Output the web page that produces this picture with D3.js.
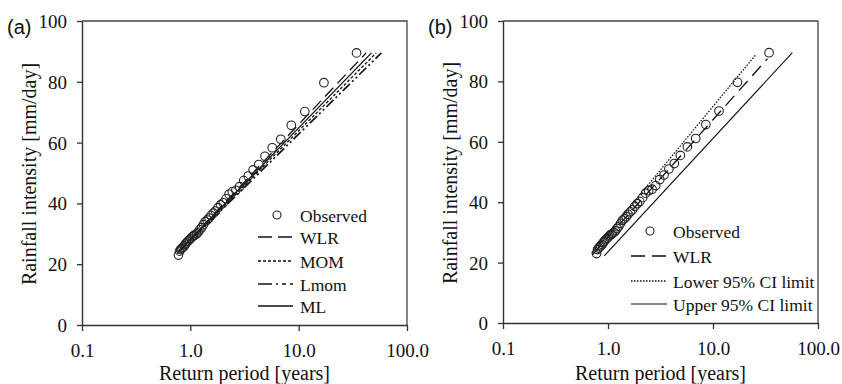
<!DOCTYPE html>
<html>
<head>
<meta charset="utf-8">
<script src="https://cdn.jsdelivr.net/npm/d3@7"></script>
<style>
  html, body { margin: 0; padding: 0; background: #fff; }
  svg { display: block; }
  text { font-family: "Liberation Serif", "Times New Roman", serif; fill: #111; }
</style>
</head>
<body>
<svg id="chart" width="842" height="384"></svg>
<script>
// ---------- DATA ----------
const xTicks = [0.1, 1, 10, 100];
const yTicks = [0, 20, 40, 60, 80, 100];

// Observed return periods [years] and rainfall intensities [mm/day]
const returnPeriod = [34.2, 17.1, 11.4, 8.55, 6.84, 5.7, 4.89, 4.28, 3.8, 3.42,
  3.11, 2.85, 2.63, 2.44, 2.28, 2.14, 2.01, 1.9, 1.8, 1.71,
  1.63, 1.55, 1.49, 1.43, 1.37, 1.32, 1.27, 1.22, 1.18, 1.14,
  1.10, 1.07, 1.04, 1.01, 0.98, 0.95, 0.92, 0.90, 0.88, 0.855,
  0.834, 0.814, 0.795, 0.777];
const observed = [89.5, 79.7, 70.2, 65.7, 61.1, 58.3, 55.5, 52.8, 51.0, 49.0,
  47.5, 45.5, 44.3, 43.8, 43.0, 41.5, 40.2, 39.5, 38.6, 37.5,
  36.8, 36.0, 35.2, 34.5, 34.0, 33.0, 32.0, 31.3, 30.5, 30.0,
  29.6, 29.3, 29.0, 28.5, 28.0, 27.6, 27.0, 26.6, 26.0, 25.6,
  25.2, 24.8, 24.3, 23.0];

// Fitted distributions, panel (a): [return period, intensity] end points
const wlrA  = [[0.75, 23.5], [42, 89.5]];
const mlA   = [[0.76, 23.8], [47, 89.5]];
const momA  = [[0.77, 24.0], [52, 89.5]];
const lmomA = [[0.78, 24.0], [58, 89.5]];

// Panel (b): WLR fit and 95% confidence limits
const wlrB   = [[0.71, 22.6], [33, 87.5]];
const lowerB = [[0.70, 23.2], [25.8, 89.0]];
const upperB = [[0.92, 22.2], [57, 89.5]];

const legendA = ["Observed", "WLR", "MOM", "Lmom", "ML"];
const legendB = ["Observed", "WLR", "Lower 95% CI limit", "Upper 95% CI limit"];

// ---------- DRAW ----------
const svg = d3.select("#chart");
const fmt = d3.format(".1f");

function panel(opt) {
  const x = d3.scaleLog().domain([0.1, 100]).range([opt.x0, opt.x1]);
  const y = d3.scaleLinear().domain([0, 100]).range([opt.y0, opt.y1]);
  const g = svg.append("g");

  // frame top/right
  g.append("path")
    .attr("d", `M${opt.x0},${opt.y1}H${opt.x1}V${opt.y0}`)
    .attr("fill", "none").attr("stroke", "#444").attr("stroke-width", 1.3);

  const xa = g.append("g").attr("transform", `translate(0,${opt.y0})`)
    .call(d3.axisBottom(x).tickValues(xTicks).tickFormat(fmt).tickSize(6).tickSizeOuter(0));
  const ya = g.append("g").attr("transform", `translate(${opt.x0},0)`)
    .call(d3.axisLeft(y).tickValues(yTicks).tickSize(5).tickSizeOuter(0));
  [xa, ya].forEach(a => {
    a.select(".domain").attr("stroke", "#333").attr("stroke-width", 1.4);
    a.selectAll(".tick line").attr("stroke", "#333").attr("stroke-width", 1.3);
    a.selectAll(".tick text").style("font-family", '"Liberation Serif", serif')
      .style("font-size", "19px").attr("fill", "#111");
  });
  xa.selectAll(".tick text").attr("dy", null).attr("y", 32);
  ya.selectAll(".tick text").attr("x", -15).attr("dy", "0.34em");

  // axis titles
  g.append("text").attr("x", (opt.x0 + opt.x1) / 2).attr("y", 380)
    .attr("text-anchor", "middle").style("font-size", "20px").text("Return period [years]");
  g.append("text").attr("transform", `translate(${opt.x0 - 46},${(opt.y0 + opt.y1) / 2 + 1}) rotate(-90)`)
    .attr("text-anchor", "middle").style("font-size", "20px").text("Rainfall intensity [mm/day]");
  g.append("text").attr("x", opt.x0 - 75).attr("y", 34)
    .style("font-family", '"Liberation Sans", Arial, sans-serif').style("font-size", "20px")
    .text(opt.label);

  const line = d3.line().x(d => x(d[0])).y(d => y(d[1]));
  opt.lines.forEach(l => {
    g.append("path").attr("d", line(l.data)).attr("fill", "none")
      .attr("stroke", "#111").attr("stroke-width", l.w || 1.3)
      .attr("stroke-dasharray", l.dash || null);
  });

  const pts = returnPeriod.map((t, i) => [t, observed[i]]);
  g.selectAll("circle.obs").data(pts).enter().append("circle")
    .attr("class", "obs")
    .attr("cx", d => x(d[0])).attr("cy", d => y(d[1])).attr("r", 4.3)
    .attr("fill", "none").attr("stroke", "#222").attr("stroke-width", 1.1);

  // legend
  const L = opt.legend;
  const lg = g.append("g");
  lg.append("circle").attr("cx", L.cx).attr("cy", L.rows[0]).attr("r", 4)
    .attr("fill", "none").attr("stroke", "#222").attr("stroke-width", 1.1);
  L.names.forEach((n, i) => {
    lg.append("text").attr("x", L.tx).attr("y", L.rows[i] + 6.5)
      .style("font-size", "17.5px").text(n);
    if (i > 0) {
      const st = opt.lines[i - 1];
      lg.append("line").attr("x1", L.lx0).attr("x2", L.lx1)
        .attr("y1", L.rows[i]).attr("y2", L.rows[i])
        .attr("stroke", "#111").attr("stroke-width", st.w || 1.3)
        .attr("stroke-dasharray", st.legDash || st.dash || null);
    }
  });
}

panel({
  x0: 82, x1: 407, y0: 325, y1: 21, label: "(a)",
  lines: [
    { data: wlrA, dash: "12,6", legDash: "14,6" },
    { data: momA, dash: "3,2" },
    { data: lmomA, dash: "10,3,2,3,2,3", w: 1.7, legDash: "14,4,2,4,4,4" },
    { data: mlA }
  ],
  legend: { names: legendA, cx: 277, tx: 300, lx0: 258, lx1: 293, rows: [215, 237, 261, 284, 306] }
});

panel({
  x0: 503, x1: 818, y0: 323, y1: 21, label: "(b)",
  lines: [
    { data: wlrB, dash: "13,7", legDash: "14,7" },
    { data: lowerB, dash: "1.5,1.5" },
    { data: upperB, w: 1.1 }
  ],
  legend: { names: legendB, cx: 650, tx: 673, lx0: 631, lx1: 667, rows: [231, 256, 281, 304] }
});
</script>
</body>
</html>
